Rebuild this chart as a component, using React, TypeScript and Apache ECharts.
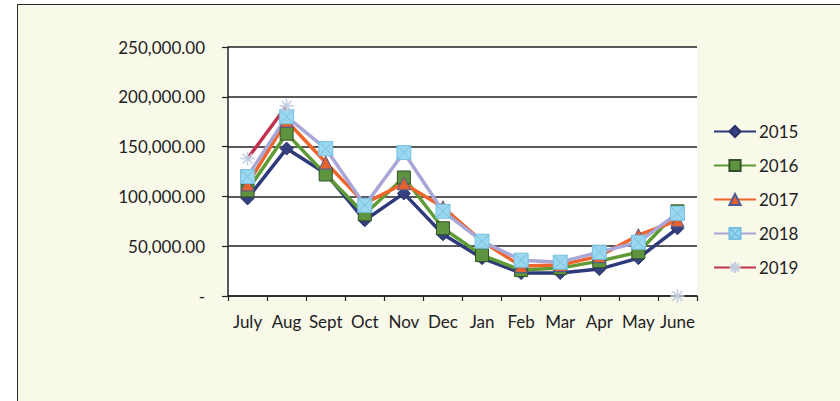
import React, { useEffect, useRef } from "react";
import * as echarts from "echarts";

const months = ["July", "Aug", "Sept", "Oct", "Nov", "Dec", "Jan", "Feb", "Mar", "Apr", "May", "June"];
const years = ["2015", "2016", "2017", "2018", "2019"];
const s2015 = [98000, 148000, 123000, 76000, 103000, 62000, 38000, 23000, 23000, 27000, 38000, 68000];
const s2016 = [106000, 163000, 122000, 82000, 119000, 68000, 41000, 26000, 28000, 35000, 44000, 85000];
const s2017 = [112000, 176000, 134000, 93000, 113000, 89000, 55000, 30000, 31000, 40000, 61000, 76000];
const s2018 = [120000, 180000, 148000, 91000, 144000, 85000, 55000, 36000, 34000, 44000, 54000, 83000];
const s2019 = [138000, 191000, null, null, null, null, null, null, null, null, null, 0];
const yTicks = [0, 50000, 100000, 150000, 200000, 250000];

const FONT = "Lato";

export default function App() {
  const ref = useRef<HTMLDivElement>(null);
  useEffect(() => {
    const chart = echarts.init(ref.current!, null, { renderer: "svg" });
    const base = {
      type: "line",
      showAllSymbol: true,
      connectNulls: false,
      z: 2,
    };
    chart.setOption({
      animation: false,
      backgroundColor: "transparent",
      textStyle: { fontFamily: FONT },
      grid: {
        left: 228,
        top: 47,
        right: 143,
        bottom: 105,
        show: true,
        backgroundColor: "#ffffff",
        borderWidth: 0,
      },
      legend: {
        orient: "vertical",
        left: 708,
        top: 118,
        itemWidth: 42,
        itemHeight: 14,
        itemGap: 17,
        data: years,
        textStyle: { fontFamily: FONT, fontSize: 17, color: "#222", padding: [0, 0, 0, -2] },
      },
      xAxis: {
        type: "category",
        data: months,
        boundaryGap: true,
        axisLine: { lineStyle: { color: "#222", width: 1.5 } },
        axisTick: { show: true, length: 5, lineStyle: { color: "#222", width: 1.2 } },
        axisLabel: { fontFamily: FONT, fontSize: 17, color: "#222", margin: 17, interval: 0 },
        splitLine: { show: false },
      },
      yAxis: {
        type: "value",
        min: yTicks[0],
        max: yTicks[yTicks.length - 1],
        interval: 50000,
        axisLine: { show: true, lineStyle: { color: "#222", width: 1.5 } },
        axisTick: { show: true, length: 6, lineStyle: { color: "#222", width: 1.2 } },
        axisLabel: {
          fontFamily: FONT,
          fontSize: 17,
          color: "#222",
          margin: 23,
          formatter: (v: number) =>
            v === 0 ? "-" : v.toLocaleString("en-US", { minimumFractionDigits: 2, maximumFractionDigits: 2 }),
        },
        splitLine: { show: true, lineStyle: { color: "#222", width: 1.5 } },
      },
      series: [
        {
          ...base,
          name: "2015",
          data: s2015,
          symbol: "diamond",
          symbolSize: 13,
          lineStyle: { color: "#2f3a7a", width: 3.5 },
          itemStyle: { color: "#35407e", borderColor: "#283266", borderWidth: 1 },
        },
        {
          ...base,
          name: "2016",
          data: s2016,
          symbol: "rect",
          symbolSize: 13,
          lineStyle: { color: "#5f9b35", width: 3.5 },
          itemStyle: { color: "#5e9440", borderColor: "#34502a", borderWidth: 1 },
        },
        {
          ...base,
          name: "2017",
          data: s2017,
          symbol: "triangle",
          symbolSize: 13,
          lineStyle: { color: "#f0652b", width: 3.5 },
          itemStyle: { color: "#e4622e", borderColor: "#4d5a96", borderWidth: 1 },
        },
        {
          ...base,
          name: "2018",
          data: s2018,
          symbol: "path://M0,0L10,0L10,10L0,10ZM0,0L10,10M10,0L0,10",
          symbolSize: 14,
          lineStyle: { color: "#a9a6d8", width: 3.5 },
          itemStyle: { color: "#9bd7ee", borderColor: "#78c0e2", borderWidth: 1 },
        },
        {
          ...base,
          name: "2019",
          data: s2019,
          symbol: "path://M5,0L5,10M0,5L10,5M1.5,1.5L8.5,8.5M8.5,1.5L1.5,8.5",
          symbolSize: 14,
          lineStyle: { color: "#c2314e", width: 3.5 },
          itemStyle: { color: "rgba(0,0,0,0)", borderColor: "#c2cfe0", borderWidth: 1.5 },
        },
      ],
    });
    return () => chart.dispose();
  }, []);

  return (
    <div
      style={{
        position: "fixed",
        left: 0,
        top: 0,
        width: 840,
        height: 401,
        background: "#ffffff",
        overflow: "hidden",
      }}
    >
      <div
        style={{
          position: "absolute",
          left: 17,
          top: 4,
          width: 900,
          height: 450,
          border: "1.5px solid #2a2a2a",
          background: "#f9f9ea",
        }}
      />
      <div ref={ref} style={{ position: "absolute", left: 0, top: 0, width: 840, height: 401 }} />
    </div>
  );
}
